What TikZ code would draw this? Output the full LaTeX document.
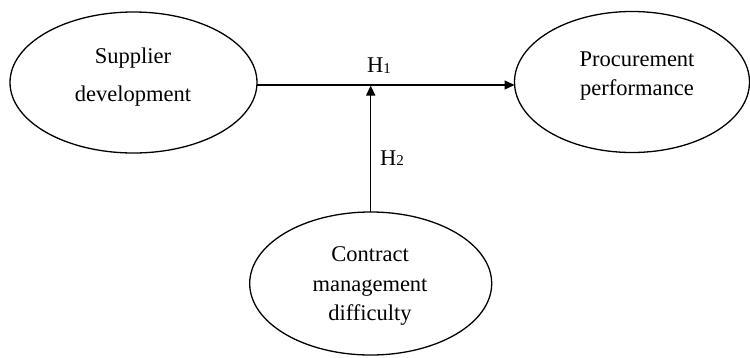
\documentclass[tikz,border=0pt]{standalone}
\usepackage{fontspec}
\setmainfont{Liberation Serif}
\usetikzlibrary{shapes.geometric,arrows.meta}
\begin{document}
\begin{tikzpicture}[x=1pt,y=-1pt,
  ell/.style={draw=black,ellipse,line width=1.3pt,inner sep=0pt,outer sep=0pt},
  txt/.style={anchor=base,inner sep=0pt,font=\fontsize{22.5}{27}\selectfont},
  hlab/.style={anchor=base west,inner sep=0pt,font=\fontsize{22.5}{27}\selectfont},
  arr/.style={line width=1.3pt,-{Triangle[length=10pt,width=9pt]}}]
\useasboundingbox (0,0) rectangle (750,357);
\node[ell,minimum width=247pt,minimum height=141pt] (sd) at (133.5,82.5) {};
\node[ell,minimum width=235pt,minimum height=141pt] (pp) at (632,82) {};
\node[ell,minimum width=242pt,minimum height=143pt] (cm) at (370.7,283.5) {};
\node[txt] (t1) at (133,63) {Supplier};
\node[txt] (t2) at (133,101.7) {development};
\node[txt] (t3) at (637,66) {Procurement};
\node[txt] (t4) at (637,95) {performance};
\node[txt] (t5) at (370,261.7) {Contract};
\node[txt] (t6) at (370,291.7) {management};
\node[txt] (t7) at (370,320) {difficulty};
\node[hlab] (h1) at (367,72.7) {H\raisebox{-0.5pt}{\fontsize{15}{15}\selectfont 1}};
\node[hlab] (h2) at (380,165) {H\raisebox{-0.5pt}{\fontsize{15}{15}\selectfont 2}};
\coordinate (j) at (370.7,85.5);
\draw[arr] ([yshift=-2.5pt]sd.east) -- ([yshift=-3pt]pp.west);
\draw[arr] (cm.north) -- (j);
\end{tikzpicture}
\end{document}
